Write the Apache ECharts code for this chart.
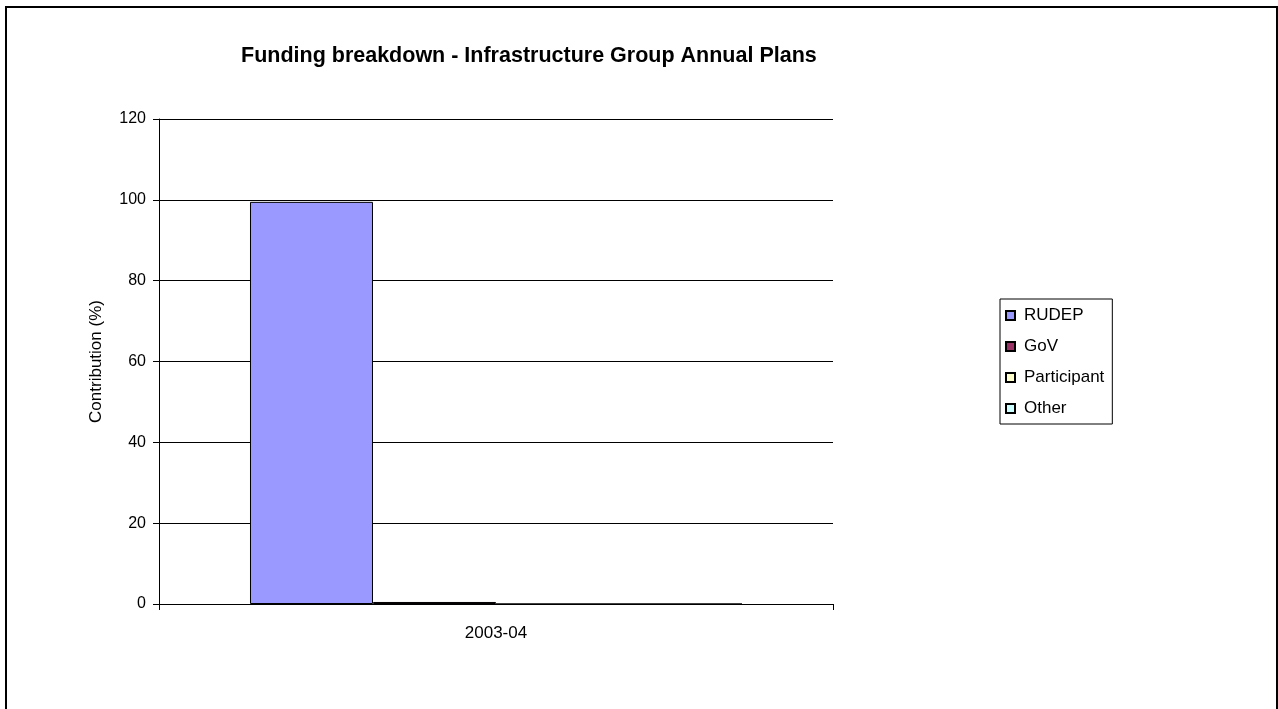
<!DOCTYPE html>
<html>
<head>
<meta charset="utf-8">
<title>Funding breakdown</title>
<script src="https://cdn.jsdelivr.net/npm/echarts@6/dist/echarts.min.js"></script>
<style>
  html, body { margin: 0; padding: 0; background: #fff; }
  #chart { width: 1278px; height: 709px; }
</style>
</head>
<body>
<div id="chart"></div>
<script>
// data
var categories = ["2003-04"];
var seriesNames = ["RUDEP", "GoV", "Participant", "Other"];
var rudep = [99.5];
var gov = [0.5];
var participant = [0];
var other = [0];
var colors = ["#9999FF", "#993366", "#FFFFCC", "#CCFFFF"];

var font = "Liberation Sans, Arial, sans-serif";
var chart = echarts.init(document.getElementById("chart"));

var values = [rudep, gov, participant, other];
var series = seriesNames.map(function (name, i) {
  return {
    name: name,
    type: "bar",
    data: values[i],
    barGap: "0%",
    barCategoryGap: "27%",
    itemStyle: { color: colors[i], borderColor: "#000", borderWidth: 1 },
  };
});

chart.setOption({
  animation: false,
  title: {
    text: "Funding breakdown - Infrastructure Group Annual Plans",
    left: 236,
    top: 40,
    textStyle: { fontFamily: font, fontSize: 21.5, fontWeight: "bold", color: "#000" },
  },
  graphic: [
    {
      type: "rect",
      shape: { x: 6, y: 7, width: 1271, height: 710 },
      style: { fill: "none", stroke: "#000", lineWidth: 2 },
      silent: true,
    },
  ],
  legend: {
    orient: "vertical",
    left: 1000,
    top: 299,
    padding: [8, 8, 7, 5],
    itemGap: 14,
    itemWidth: 9,
    itemHeight: 9,
    icon: "rect",
    borderColor: "#000",
    borderWidth: 1,
    borderRadius: 0,
    textStyle: { fontFamily: font, fontSize: 17, lineHeight: 17, color: "#000", padding: [0, 0, 0, 4] },
    data: seriesNames,
  },
  grid: { left: 159, right: 445, top: 119, bottom: 105 },
  xAxis: {
    type: "category",
    data: categories,
    axisLine: { lineStyle: { color: "#000", width: 1 } },
    axisTick: { show: true, length: 6, lineStyle: { color: "#000" } },
    axisLabel: { fontFamily: font, fontSize: 17, color: "#000", margin: 21 },
  },
  yAxis: {
    type: "value",
    min: 0,
    max: 120,
    interval: 20,
    name: "Contribution (%)",
    nameLocation: "middle",
    nameGap: 54,
    nameTextStyle: { fontFamily: font, fontSize: 17, color: "#000" },
    axisLine: { show: true, lineStyle: { color: "#000", width: 1 } },
    axisTick: { show: true, length: 6, lineStyle: { color: "#000" } },
    axisLabel: { fontFamily: font, fontSize: 16, color: "#000", margin: 13 },
    splitLine: { show: true, lineStyle: { color: "#000", width: 1 } },
  },
  series: series,
});
</script>
</body>
</html>
